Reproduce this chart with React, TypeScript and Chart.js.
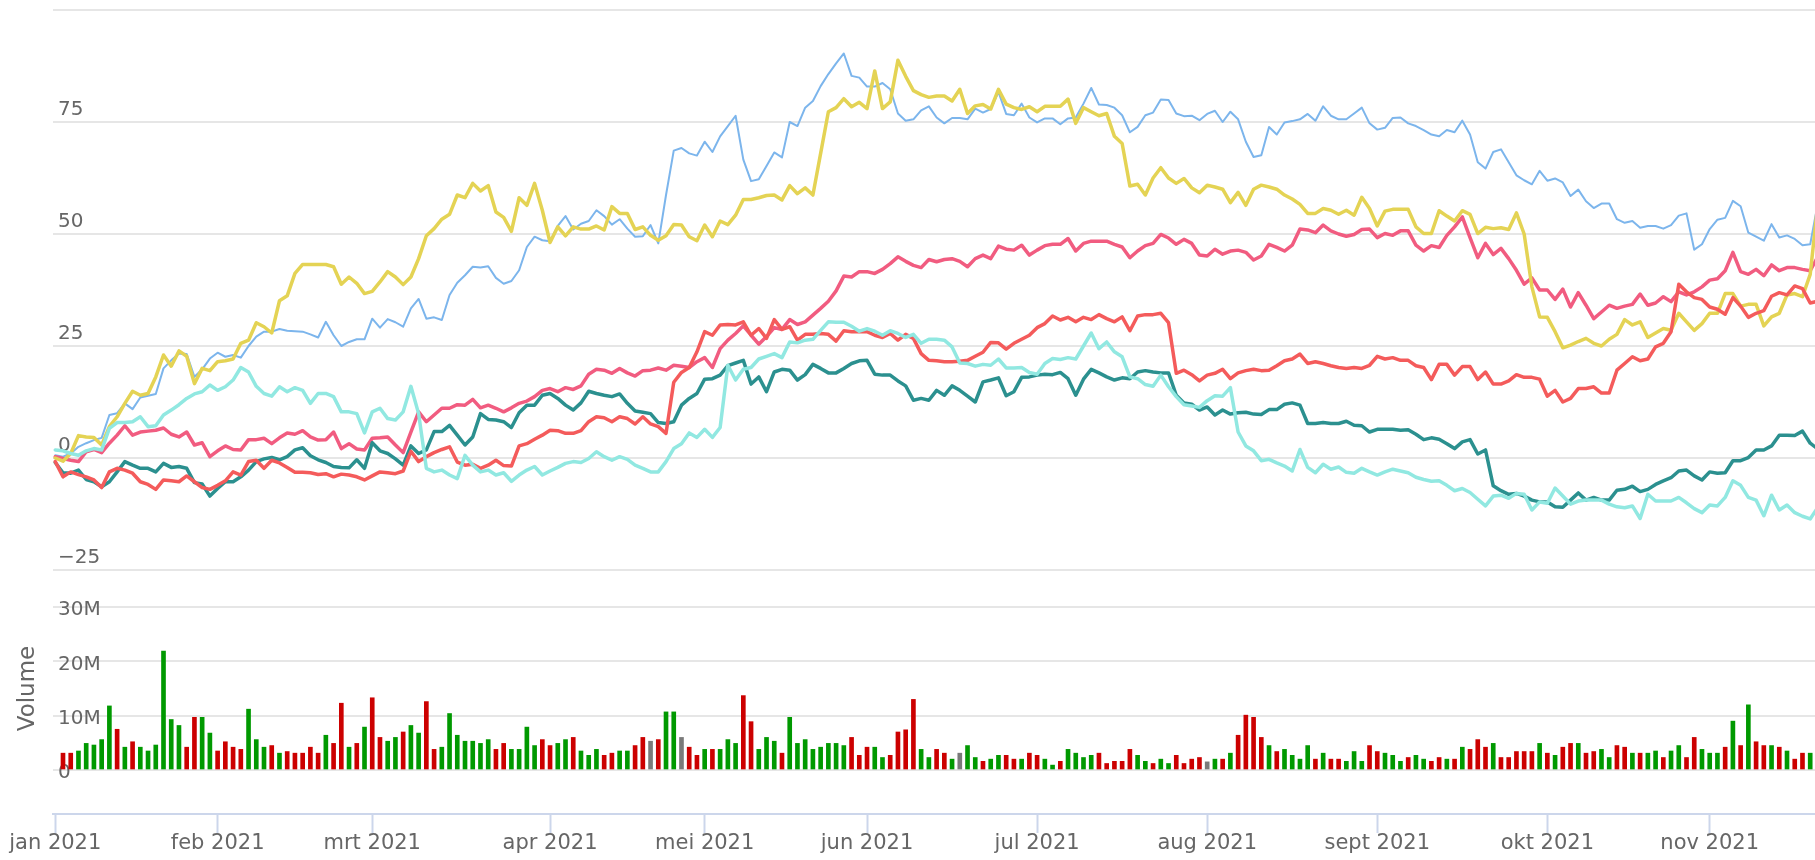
import React, { useEffect, useRef } from 'react';
import { Chart, registerables } from 'chart.js';

Chart.register(...registerables);

// ---- x axis: trading-day index (Euronext 2021); first line point is index -1 ----
const FIRST_LINE_INDEX = -1;
const monthLabels = ['jan 2021', 'feb 2021', 'mrt 2021', 'apr 2021', 'mei 2021', 'jun 2021', 'jul 2021', 'aug 2021', 'sept 2021', 'okt 2021', 'nov 2021'];
const monthStartIndex = [-1, 20, 40, 63, 83, 104, 126, 148, 170, 192, 213];

// ---- price axis ticks (percent) and volume ticks (millions) ----
const priceTicks = [-25, 0, 25, 50, 75, 100];
const volumeTicks = [0, 10, 20, 30];

// ---- series (percent change), index -1 .. 227 ----
const blueSeries = [0.6,
  0.3, 1.0, 2.5, 3.3, 4.0, 4.5, 9.6, 10.0, 12.2, 10.9,
  13.5, 13.9, 14.3, 20.0, 21.8, 23.3, 23.2, 18.1, 19.8, 22.2,
  23.5, 22.6, 23.0, 22.4, 25.0, 27.1, 28.2, 28.2, 28.8, 28.4,
  28.3, 28.2, 27.6, 26.9, 30.4, 27.4, 25.0, 25.9, 26.5, 26.5,
  31.1, 29.1, 31.0, 30.3, 29.3, 33.4, 35.5, 31.1, 31.4, 30.8,
  36.4, 39.1, 40.8, 42.7, 42.5, 42.8, 40.2, 38.9, 39.5, 41.9,
  47.1, 49.4, 48.6, 48.4, 51.8, 54.0, 51.0, 52.3, 52.9, 55.3,
  54.0, 52.1, 53.3, 51.2, 49.4, 49.5, 52.0, 47.9, 58.7, 68.6,
  69.2, 68.0, 67.5, 70.6, 68.3, 71.8, 74.1, 76.4, 66.6, 61.8,
  62.2, 65.2, 68.2, 67.1, 75.0, 74.1, 78.2, 79.7, 83.0, 85.7,
  88.1, 90.3, 85.3, 84.9, 82.9, 82.9, 83.7, 82.3, 76.9, 75.3,
  75.6, 77.6, 78.5, 76.0, 74.7, 75.9, 75.9, 75.6, 78.0, 77.1,
  77.9, 81.7, 76.8, 76.5, 79.1, 76.0, 74.9, 75.8, 75.8, 74.5,
  75.8, 76.0, 79.1, 82.6, 78.9, 78.8, 78.2, 76.5, 72.7, 73.9,
  76.5, 77.1, 80.0, 79.9, 76.9, 76.3, 76.4, 75.4, 76.8, 77.5,
  75.0, 77.3, 75.6, 70.6, 67.2, 67.6, 73.9, 72.2, 74.9, 75.2,
  75.6, 76.8, 75.3, 78.5, 76.4, 75.6, 75.6, 76.9, 78.2, 74.7,
  73.3, 73.7, 75.9, 76.0, 74.7, 74.1, 73.2, 72.2, 71.8, 73.2,
  72.7, 75.3, 72.2, 66.0, 64.6, 68.3, 68.9, 66.0, 63.1, 62.0,
  61.1, 64.1, 61.9, 62.4, 61.5, 58.5, 59.9, 57.3, 55.8, 56.8,
  56.8, 53.3, 52.5, 52.9, 51.4, 51.8, 51.8, 51.2, 52.0, 54.1,
  54.6, 46.5, 47.7, 51.1, 53.2, 53.6, 57.4, 56.2, 50.3, 49.4,
  48.5, 52.2, 49.2, 49.7, 48.9, 47.5, 47.7, 57.0];

const yellowSeries = [0.0,
  -0.7, 1.0, 5.0, 4.7, 4.6, 2.9, 7.0, 9.2, 12.2, 14.9,
  14.0, 14.4, 18.1, 23.0, 20.5, 23.9, 22.7, 16.6, 20.0, 19.5,
  21.5, 21.7, 22.1, 25.6, 26.3, 30.2, 29.3, 27.9, 35.1, 36.2,
  41.2, 43.2, 43.2, 43.2, 43.2, 42.7, 38.8, 40.4, 39.0, 36.7,
  37.2, 39.3, 41.6, 40.4, 38.7, 40.4, 44.5, 49.6, 51.2, 53.3,
  54.4, 58.7, 58.1, 61.3, 59.6, 60.8, 54.9, 53.7, 50.6, 58.1,
  56.4, 61.3, 55.3, 48.1, 51.6, 49.6, 51.6, 51.1, 51.1, 51.8,
  50.9, 56.1, 54.6, 54.6, 51.0, 51.6, 49.7, 48.6, 49.6, 52.1,
  52.0, 49.4, 48.5, 52.0, 49.4, 52.9, 52.1, 54.2, 57.7, 57.7,
  58.1, 58.6, 58.7, 57.6, 60.8, 59.0, 60.3, 58.7, 68.0, 77.3,
  78.2, 80.2, 78.4, 79.4, 78.0, 86.4, 78.0, 79.5, 88.8, 85.2,
  82.0, 81.1, 80.5, 80.8, 80.8, 79.7, 82.3, 76.9, 78.6, 78.9,
  77.9, 82.3, 79.0, 78.2, 77.8, 78.4, 77.3, 78.5, 78.5, 78.5,
  80.1, 74.7, 78.2, 77.3, 76.4, 76.9, 71.8, 70.2, 60.7, 61.1,
  58.7, 62.5, 64.8, 62.5, 61.3, 62.4, 60.3, 59.2, 60.9, 60.5,
  60.0, 57.0, 59.3, 56.4, 60.0, 60.9, 60.5, 60.0, 58.7, 57.8,
  56.6, 54.6, 54.6, 55.7, 55.3, 54.4, 55.3, 54.2, 58.2, 55.7,
  51.8, 55.1, 55.5, 55.5, 55.5, 51.6, 50.1, 50.1, 55.2, 54.0,
  52.9, 55.2, 54.4, 50.1, 51.5, 51.2, 51.4, 51.0, 54.7, 50.0,
  38.2, 31.5, 31.4, 28.2, 24.6, 25.2, 26.0, 26.7, 25.6, 25.0,
  26.5, 27.6, 30.9, 29.7, 30.4, 26.9, 27.9, 28.9, 28.5, 32.3,
  30.4, 28.5, 30.0, 32.3, 32.3, 36.7, 36.7, 33.9, 34.3, 34.3,
  29.5, 31.5, 32.3, 36.4, 36.7, 36.0, 41.0, 57.0];

const pinkSeries = [0.3,
  -0.1, -0.5, -0.8, 1.4, 1.9, 1.2, 3.3, 5.1, 7.2, 5.1,
  5.8, 6.0, 6.2, 6.7, 5.3, 4.7, 5.8, 2.9, 3.4, 0.3,
  1.6, 2.7, 1.9, 1.8, 4.1, 4.1, 4.4, 3.2, 4.5, 5.6,
  5.3, 6.1, 4.7, 4.0, 4.1, 5.8, 2.1, 3.2, 2.0, 1.8,
  4.4, 4.5, 4.7, 2.9, 1.2, 5.8, 10.3, 8.1, 9.6, 11.1,
  11.1, 11.9, 11.8, 13.1, 11.2, 11.8, 11.1, 10.3, 11.2, 12.2,
  12.7, 13.7, 15.1, 15.5, 14.8, 15.7, 15.3, 16.1, 18.7, 19.8,
  19.6, 18.9, 20.0, 19.0, 18.3, 19.5, 19.6, 20.1, 19.6, 20.7,
  20.5, 20.2, 21.5, 22.4, 20.2, 24.4, 26.3, 27.8, 29.5, 27.4,
  25.4, 27.1, 29.1, 28.7, 30.9, 29.8, 30.4, 31.9, 33.4, 35.0,
  37.3, 40.6, 40.4, 41.6, 41.6, 41.2, 42.1, 43.4, 44.9, 43.9,
  43.0, 42.5, 44.3, 43.8, 44.3, 44.5, 43.9, 42.7, 44.5, 45.3,
  44.5, 47.3, 46.6, 46.4, 47.5, 45.3, 46.4, 47.4, 47.7, 47.7,
  49.0, 46.2, 47.9, 48.4, 48.4, 48.4, 47.7, 47.1, 44.7, 46.2,
  47.4, 47.9, 49.9, 49.1, 47.7, 48.8, 47.9, 45.3, 45.1, 46.6,
  45.5, 46.2, 46.4, 45.9, 44.2, 45.1, 47.7, 47.0, 46.2, 47.5,
  51.1, 50.9, 50.3, 52.0, 50.7, 50.0, 49.5, 49.9, 51.0, 51.1,
  49.2, 50.1, 49.7, 50.7, 50.7, 47.5, 46.2, 47.4, 47.0, 49.7,
  51.6, 53.8, 49.2, 44.7, 47.9, 45.4, 46.8, 44.5, 41.9, 38.8,
  40.2, 37.5, 37.5, 35.4, 37.7, 33.7, 36.9, 34.1, 31.1, 32.6,
  34.1, 33.4, 33.9, 34.3, 36.6, 34.1, 34.6, 36.0, 34.9, 37.1,
  36.4, 37.1, 38.2, 39.7, 40.0, 41.8, 45.9, 41.6, 41.0, 42.1,
  40.7, 43.1, 41.8, 42.5, 42.5, 42.1, 41.8, 45.0];

const redSeries = [-0.8,
  -4.2, -3.1, -3.7, -4.2, -4.9, -6.6, -3.1, -2.3, -2.7, -3.4,
  -5.3, -5.9, -7.0, -4.9, -5.1, -5.3, -4.0, -5.3, -6.6, -7.0,
  -6.1, -5.1, -3.1, -3.8, -0.8, -0.5, -2.3, -0.5, -1.1, -2.1,
  -3.2, -3.2, -3.3, -3.7, -3.5, -4.2, -3.6, -3.8, -4.2, -4.9,
  -4.0, -3.1, -3.3, -3.5, -2.9, 1.5, -0.8, 0.3, 1.2, 1.9,
  2.5, -0.9, -1.6, -1.4, -2.3, -1.6, -0.5, -1.7, -1.8, 2.7,
  3.2, 4.2, 5.1, 6.2, 6.1, 5.5, 5.5, 6.1, 8.1, 9.2,
  9.0, 8.1, 9.2, 8.8, 7.6, 9.2, 7.6, 7.0, 5.5, 16.9,
  19.1, 20.2, 23.7, 28.2, 27.4, 29.7, 29.8, 29.7, 30.4, 27.4,
  28.9, 26.7, 30.9, 28.7, 29.3, 26.3, 27.6, 27.6, 27.8, 27.6,
  26.1, 28.4, 28.2, 28.2, 28.2, 27.4, 26.9, 27.8, 26.3, 27.6,
  26.7, 23.3, 21.8, 21.7, 21.5, 21.5, 21.6, 21.8, 22.7, 23.6,
  25.8, 25.7, 24.3, 25.6, 26.5, 27.4, 29.1, 30.0, 31.7, 30.8,
  31.4, 30.4, 31.4, 30.9, 32.0, 31.1, 30.4, 31.5, 28.4, 31.7,
  32.0, 32.0, 32.3, 30.2, 18.9, 19.6, 18.6, 17.2, 18.5, 18.9,
  19.8, 17.7, 19.0, 19.5, 19.8, 19.5, 19.6, 20.6, 21.7, 22.1,
  23.2, 21.1, 21.5, 21.1, 20.6, 20.2, 20.0, 20.2, 20.0, 20.7,
  22.7, 22.1, 22.4, 21.8, 21.8, 20.6, 20.2, 17.5, 20.9, 20.9,
  18.5, 20.4, 20.4, 17.5, 19.2, 16.5, 16.5, 17.2, 18.6, 18.0,
  18.0, 17.6, 13.8, 15.1, 12.5, 13.3, 15.5, 15.5, 15.9, 14.5,
  14.5, 19.6, 21.1, 22.6, 21.7, 22.1, 24.8, 25.6, 28.2, 38.8,
  37.1, 35.8, 35.4, 33.7, 33.2, 32.1, 35.8, 33.9, 31.4, 32.3,
  32.9, 36.1, 36.9, 36.4, 38.4, 37.8, 34.6, 35.0];

const tealSeries = [-1.0,
  -3.3, -3.4, -2.7, -4.8, -5.3, -6.4, -5.3, -3.1, -0.8, -1.6,
  -2.3, -2.3, -3.1, -1.2, -2.1, -1.9, -2.3, -5.5, -5.8, -8.5,
  -6.8, -5.3, -5.3, -4.2, -2.7, -0.8, -0.2, 0.1, -0.4, 0.3,
  1.8, 2.3, 0.5, -0.4, -1.0, -1.9, -2.1, -2.2, -0.4, -2.3,
  3.4, 1.6, 1.0, -0.2, -1.6, 2.7, 1.0, 1.8, 5.9, 5.9,
  7.3, 5.1, 2.9, 4.7, 9.9, 8.6, 8.5, 8.1, 6.8, 10.1,
  11.8, 11.8, 14.0, 14.4, 13.3, 11.8, 10.7, 12.3, 14.9, 14.4,
  14.0, 13.7, 14.3, 12.2, 10.5, 10.2, 9.9, 7.9, 7.7, 8.1,
  11.8, 13.3, 14.4, 17.6, 17.7, 18.5, 20.6, 21.2, 21.8, 16.5,
  18.1, 14.8, 19.2, 19.8, 19.6, 17.4, 18.6, 20.9, 20.0, 19.0,
  19.0, 20.0, 21.1, 21.7, 21.8, 18.7, 18.5, 18.5, 17.2, 16.1,
  12.9, 13.3, 12.9, 15.1, 14.0, 16.1, 15.1, 13.8, 12.5, 17.0,
  17.4, 17.9, 13.9, 14.8, 18.0, 18.1, 18.5, 18.7, 18.6, 19.1,
  17.7, 14.0, 17.6, 19.8, 19.0, 18.1, 17.4, 17.9, 17.7, 19.2,
  19.5, 19.2, 19.0, 19.0, 14.0, 12.3, 12.0, 10.7, 11.4, 9.6,
  10.7, 9.8, 10.1, 10.2, 9.8, 9.7, 10.8, 10.8, 12.0, 12.3,
  11.8, 7.7, 7.7, 7.9, 7.7, 7.7, 8.2, 7.3, 7.2, 5.8,
  6.4, 6.4, 6.4, 6.2, 6.3, 5.3, 4.1, 4.5, 4.2, 3.2,
  2.1, 3.6, 4.1, 0.9, 1.8, -6.2, -7.3, -8.1, -7.9, -8.5,
  -9.4, -9.8, -9.8, -10.9, -11.0, -9.4, -7.8, -9.4, -8.8, -9.4,
  -9.4, -7.2, -7.0, -6.3, -7.5, -7.0, -5.9, -5.1, -4.4, -2.9,
  -2.7, -4.0, -4.9, -3.1, -3.4, -3.3, -0.6, -0.6, 0.1, 1.8,
  1.8, 2.7, 5.1, 5.1, 5.0, 6.0, 3.3, 2.0];

const cyanSeries = [1.8,
  1.6, 1.0, 0.6, 1.6, 2.1, 1.8, 6.6, 7.9, 7.9, 8.1,
  9.2, 7.0, 7.2, 9.6, 10.7, 11.9, 13.3, 14.3, 14.8, 16.3,
  15.1, 15.9, 17.4, 20.2, 19.2, 16.0, 14.4, 13.8, 15.9, 14.8,
  15.7, 15.1, 12.2, 14.4, 14.4, 13.7, 10.3, 10.3, 9.9, 5.6,
  10.3, 11.1, 8.8, 8.5, 10.3, 16.0, 9.9, -2.3, -3.1, -2.7,
  -3.8, -4.6, 0.6, -1.6, -3.1, -2.7, -3.8, -3.3, -5.2, -3.8,
  -2.7, -1.9, -3.8, -2.9, -2.1, -1.2, -0.8, -1.0, -0.1, 1.4,
  0.3, -0.5, 0.3, -0.3, -1.6, -2.3, -3.1, -3.1, -0.8, 2.1,
  3.2, 5.6, 4.6, 6.4, 4.6, 6.8, 20.7, 17.4, 19.8, 20.2,
  22.1, 22.7, 23.3, 22.4, 25.9, 25.7, 26.3, 26.5, 28.5, 30.4,
  30.3, 30.3, 29.4, 28.3, 28.9, 28.3, 27.4, 28.4, 27.8, 26.9,
  27.6, 25.6, 26.5, 26.5, 26.3, 24.8, 21.2, 21.1, 20.5, 20.9,
  20.7, 22.1, 20.1, 20.1, 20.2, 19.1, 18.7, 21.1, 22.2, 22.0,
  22.4, 22.1, 25.0, 27.9, 24.4, 25.9, 23.7, 22.6, 18.1, 17.7,
  16.4, 16.0, 18.5, 15.9, 13.7, 11.9, 11.6, 11.3, 12.8, 13.9,
  13.8, 15.7, 5.8, 2.7, 1.6, -0.6, -0.3, -1.1, -1.8, -2.9,
  1.9, -2.1, -3.3, -1.4, -2.5, -2.0, -3.2, -3.4, -2.3, -3.1,
  -3.8, -3.1, -2.5, -2.9, -3.3, -4.3, -4.8, -5.2, -5.1, -6.1,
  -7.3, -6.8, -7.7, -9.2, -10.7, -8.5, -8.3, -9.0, -7.9, -8.1,
  -11.6, -9.8, -10.1, -6.7, -8.5, -10.3, -9.6, -9.4, -9.4, -9.4,
  -10.3, -10.9, -11.1, -10.7, -13.5, -8.1, -9.6, -9.6, -9.6, -8.8,
  -10.0, -11.3, -12.2, -10.5, -10.7, -8.8, -5.1, -6.1, -8.8, -9.4,
  -12.9, -8.3, -11.6, -10.5, -12.2, -13.0, -13.6, -11.0];

// ---- volume in millions, index 0 .. 226 ----
const volumeMillions = [
  3.1, 3.1, 3.5, 4.9, 4.6, 5.6, 11.8, 7.5, 4.2, 5.2,
  4.2, 3.5, 4.6, 21.9, 9.3, 8.2, 4.2, 9.7, 9.7, 6.8,
  3.5, 5.2, 4.2, 3.8, 11.2, 5.6, 4.2, 4.5, 3.1, 3.4,
  3.1, 3.1, 4.2, 3.1, 6.4, 4.9, 12.3, 4.2, 4.9, 7.9,
  13.3, 6.0, 5.3, 6.0, 7.0, 8.2, 6.8, 12.6, 3.8, 4.2,
  10.4, 6.4, 5.3, 5.3, 4.9, 5.6, 3.8, 4.9, 3.8, 3.8,
  7.9, 4.5, 5.6, 4.5, 4.9, 5.6, 6.0, 3.5, 2.7, 3.8,
  2.7, 3.1, 3.5, 3.5, 4.5, 6.0, 5.3, 5.6, 10.7, 10.7,
  6.0, 4.2, 2.7, 3.8, 3.8, 3.8, 5.6, 4.9, 13.7, 8.9,
  3.8, 6.0, 5.3, 3.1, 9.7, 4.9, 5.6, 3.8, 4.2, 4.9,
  4.9, 4.5, 6.0, 2.7, 4.2, 4.2, 2.3, 2.7, 7.0, 7.4,
  13.0, 3.8, 2.3, 3.8, 3.1, 2.0, 3.1, 4.5, 2.3, 1.6,
  2.0, 2.7, 2.7, 2.0, 2.0, 3.1, 2.7, 2.0, 0.9, 1.6,
  3.8, 3.1, 2.3, 2.7, 3.1, 1.2, 1.6, 1.6, 3.8, 2.7,
  1.6, 1.2, 2.0, 1.2, 2.7, 1.2, 2.0, 2.3, 1.5, 2.0,
  2.0, 3.1, 6.4, 10.1, 9.7, 6.0, 4.5, 3.4, 3.8, 2.7,
  2.0, 4.5, 2.0, 3.1, 2.0, 2.0, 1.6, 3.4, 1.6, 4.5,
  3.4, 3.1, 2.7, 1.6, 2.3, 2.7, 2.0, 1.6, 2.3, 2.0,
  2.0, 4.2, 3.8, 5.6, 4.2, 4.9, 2.3, 2.3, 3.4, 3.4,
  3.4, 4.9, 3.1, 2.7, 4.2, 4.9, 4.9, 3.1, 3.4, 3.8,
  2.3, 4.5, 4.2, 3.1, 3.1, 3.1, 3.5, 2.3, 3.5, 4.5,
  2.3, 6.0, 3.8, 3.1, 3.1, 4.2, 9.0, 4.5, 12.0, 5.2,
  4.5, 4.5, 4.2, 3.5, 2.0, 3.1, 3.1];

// u = up (green), d = down (red), f = flat (grey), index 0 .. 226
const volumeTrend = (
  'dduuuuudud' + 'uuuuuudduu' + 'dddduuudud' + 'dddduddudu' + 'dduuduuddu' +
  'uuuuuudduu' + 'uudduuduuu' + 'dduuddfduu' + 'fdduduuudd' + 'uuuduuuuuu' +
  'uuddduuddd' + 'duuddufuud' + 'uuddudduud' + 'uuuudddddu' + 'uduuddddfu' +
  'dudddduduu' + 'uududduuud' + 'duuuduuddu' + 'dudddudddd' + 'dududduddu' +
  'udduduuduu' + 'dduuududud' + 'dududdu'
).split('');

const trendColors: Record<string, string> = { u: '#009900', d: '#cc0000', f: '#7a7a7a' };

// drawing order: first entry is painted on top
const lineSeries = [
  { label: 'Serie 6', color: '#91e8e1', width: 3.5, values: cyanSeries },
  { label: 'Serie 5', color: '#f45b5b', width: 3.5, values: redSeries },
  { label: 'Serie 4', color: '#2b908f', width: 3.5, values: tealSeries },
  { label: 'Serie 3', color: '#e4d354', width: 3.5, values: yellowSeries },
  { label: 'Serie 2', color: '#f15c80', width: 3.5, values: pinkSeries },
  { label: 'Serie 1', color: '#7cb5ec', width: 2, values: blueSeries },
];

const FONT = 'DejaVu Sans';
const LABEL_COLOR = '#666666';

const fmtPrice = (v: number) => (v === 100 ? '' : v < 0 ? '\u2212' + Math.abs(v) : String(v));

const volumeTitlePlugin = {
  id: 'volumeTitle',
  afterDraw(chart: any) {
    const { ctx, chartArea } = chart;
    const yv = chart.scales.yVolume;
    const cy = (yv.getPixelForValue(0) + yv.getPixelForValue(30)) / 2;
    ctx.save();
    ctx.translate(chartArea.left - 19.5, cy);
    ctx.rotate(-Math.PI / 2);
    ctx.fillStyle = LABEL_COLOR;
    ctx.font = `23px "${FONT}"`;
    ctx.textAlign = 'center';
    ctx.textBaseline = 'alphabetic';
    ctx.fillText('Volume', 0, 0);
    ctx.restore();
  },
};

export default function App() {
  const canvasRef = useRef<HTMLCanvasElement | null>(null);

  useEffect(() => {
    const canvas = canvasRef.current;
    if (!canvas) return;

    const lineDatasets = lineSeries.map((s) => ({
      type: 'line' as const,
      label: s.label,
      data: s.values.map((y, k) => ({ x: FIRST_LINE_INDEX + k, y })),
      borderColor: s.color,
      backgroundColor: s.color,
      borderWidth: s.width,
      pointRadius: 0,
      pointHoverRadius: 0,
      tension: 0,
      fill: false,
      borderJoinStyle: 'round' as const,
      borderCapStyle: 'round' as const,
      yAxisID: 'yPrice',
    }));

    const volumeDataset = {
      type: 'bar' as const,
      label: 'Volume',
      data: volumeMillions.map((y, k) => ({ x: k, y })),
      backgroundColor: volumeTrend.map((t) => trendColors[t]),
      borderWidth: 0,
      barThickness: 4,
      yAxisID: 'yVolume',
    };

    const chart = new Chart(canvas, {
      type: 'line',
      data: { datasets: [...lineDatasets, volumeDataset] as any },
      plugins: [volumeTitlePlugin],
      options: {
        animation: false,
        responsive: false,
        devicePixelRatio: 1,
        events: [],
        layout: { padding: 0 },
        plugins: { legend: { display: false }, tooltip: { enabled: false } },
        scales: {
          x: {
            type: 'linear',
            position: 'bottom',
            min: -1.2935,
            max: 226.62,
            offset: false,
            afterBuildTicks: (scale: any) => {
              scale.ticks = monthStartIndex.map((v) => ({ value: v }));
            },
            afterFit: (scale: any) => {
              scale.height = 46;
              scale.paddingLeft = 0;
              scale.paddingRight = 0;
            },
            ticks: {
              autoSkip: false,
              maxRotation: 0,
              minRotation: 0,
              padding: -2,
              color: LABEL_COLOR,
              font: { size: 21, family: FONT },
              callback: (value: any) => {
                const k = monthStartIndex.indexOf(Number(value));
                return k >= 0 ? monthLabels[k] : '';
              },
            },
            grid: {
              offset: false,
              drawOnChartArea: false,
              drawTicks: true,
              tickLength: 19,
              tickColor: '#ccd6eb',
              tickWidth: 2,
            },
            border: { display: true, color: '#ccd6eb', width: 2 },
          },
          yPrice: {
            type: 'linear',
            position: 'left',
            weight: 1,
            min: -79.464,
            max: 102.232,
            afterBuildTicks: (scale: any) => {
              scale.ticks = priceTicks.map((v) => ({ value: v }));
            },
            afterFit: (scale: any) => {
              scale.width = 53;
              scale.paddingTop = 0;
              scale.paddingBottom = 0;
            },
            ticks: {
              mirror: true,
              padding: 5,
              labelOffset: -12.5,
              color: LABEL_COLOR,
              font: { size: 20, family: FONT },
              callback: (value: any) => fmtPrice(Number(value)),
            },
            grid: { color: '#e6e6e6', lineWidth: 2, drawTicks: false },
            border: { display: false },
          },
          yVolume: {
            type: 'linear',
            position: 'left',
            weight: 0,
            min: -8.103,
            max: 141.8,
            afterBuildTicks: (scale: any) => {
              scale.ticks = volumeTicks.map((v) => ({ value: v }));
            },
            afterFit: (scale: any) => {
              scale.width = 0;
              scale.paddingTop = 0;
              scale.paddingBottom = 0;
            },
            ticks: {
              mirror: true,
              padding: 5,
              labelOffset: 3,
              color: LABEL_COLOR,
              font: { size: 20, family: FONT },
              callback: (value: any) => (Number(value) === 0 ? '0' : `${value}M`),
            },
            grid: { color: '#e6e6e6', lineWidth: 2, drawTicks: false },
            border: { display: false },
          },
        },
      } as any,
    });

    return () => chart.destroy();
  }, []);

  return (
    <div style={{ position: 'absolute', left: 0, top: 0, width: 1815, height: 860, background: '#ffffff', overflow: 'hidden' }}>
      <canvas ref={canvasRef} width={1815} height={860} style={{ display: 'block', width: 1815, height: 860 }} />
    </div>
  );
}
